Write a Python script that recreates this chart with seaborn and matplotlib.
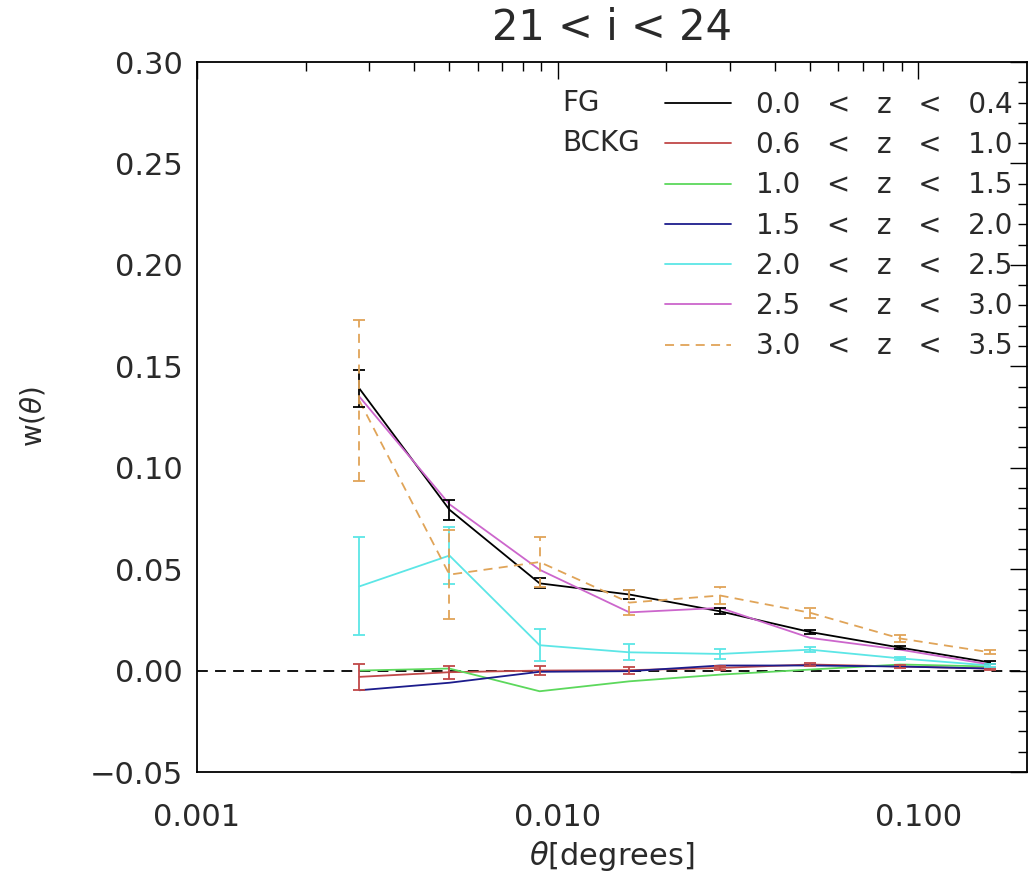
import matplotlib
matplotlib.use("Agg")
import matplotlib.pyplot as plt
import seaborn as sns
import numpy as np
import pandas as pd
from matplotlib.lines import Line2D
from matplotlib.ticker import FixedLocator, NullFormatter, MultipleLocator

# ---------------- data ----------------
theta = [0.00282, 0.00501, 0.00891, 0.0158, 0.0282, 0.0501, 0.0891, 0.158]

labels = ["0.0 < z < 0.4", "0.6 < z < 1.0", "1.0 < z < 1.5", "1.5 < z < 2.0",
          "2.0 < z < 2.5", "2.5 < z < 3.0", "3.0 < z < 3.5"]

w_z00_04 = [0.139, 0.0793, 0.0430, 0.0375, 0.0292, 0.0190, 0.0113, 0.0040]
e_z00_04 = [0.009, 0.0050, 0.0025, 0.0020, 0.0015, 0.0010, 0.0008, 0.0008]

w_z06_10 = [-0.0031, -0.0008, 0.0000, 0.0002, 0.0013, 0.0030, 0.0020, 0.0010]
e_z06_10 = [0.0064, 0.0032, 0.0023, 0.0017, 0.0012, 0.0008, 0.0006, 0.0005]

w_z10_15 = [0.0000, 0.0010, -0.0102, -0.0053, -0.0020, 0.0005, 0.0030, 0.0020]
w_z15_20 = [-0.0097, -0.0060, -0.0006, -0.0003, 0.0025, 0.0025, 0.0020, 0.0010]

w_z20_25 = [0.0415, 0.0567, 0.0125, 0.0090, 0.0082, 0.0103, 0.0060, 0.0025]
e_z20_25 = [0.0242, 0.0140, 0.0080, 0.0040, 0.0024, 0.0012, 0.0008, 0.0006]

w_z25_30 = [0.135, 0.0820, 0.0497, 0.0287, 0.0309, 0.0161, 0.0103, 0.0030]

w_z30_35 = [0.133, 0.0473, 0.0535, 0.0335, 0.0370, 0.0285, 0.0158, 0.0090]
e_z30_35 = [0.0397, 0.0220, 0.0125, 0.0060, 0.0040, 0.0025, 0.0015, 0.0010]

colors = ["#000000", "#c04848", "#5cd85c", "#1c1c8c", "#5ce6e6", "#cc66cc", "#e0a458"]

series = [w_z00_04, w_z06_10, w_z10_15, w_z15_20, w_z20_25, w_z25_30, w_z30_35]
errors = {0: e_z00_04, 1: e_z06_10, 4: e_z20_25, 6: e_z30_35}

xticks = [0.001, 0.01, 0.1]
xticklabels = ["0.001", "0.010", "0.100"]
yticks = [-0.05, 0.00, 0.05, 0.10, 0.15, 0.20, 0.25, 0.30]
yticklabels = ["\u22120.05", "0.00", "0.05", "0.10", "0.15", "0.20", "0.25", "0.30"]

# ---------------- table ----------------
rows = []
for lab, vals in zip(labels, series):
    for t, v in zip(theta, vals):
        rows.append({"theta": t, "w": v, "bin": lab})
df = pd.DataFrame(rows)

sns.set_theme(style="white")
plt.rcParams["font.family"] = ["DejaVu Sans"]
plt.rcParams["text.color"] = "#2a2a2a"

TXT = "#2a2a2a"

fig = plt.figure(figsize=(10.28, 8.75), dpi=100)
ax = fig.add_axes([197 / 1028, 1 - 772 / 875, 830 / 1028, 710 / 875])

palette = dict(zip(labels, colors))
dashes = {lab: "" for lab in labels}
dashes[labels[6]] = (5, 3.5)

sns.lineplot(data=df, x="theta", y="w", hue="bin", style="bin", palette=palette,
             dashes=dashes, hue_order=labels, style_order=labels,
             linewidth=1.3, legend=False, ax=ax, sort=False)

for i, err in errors.items():
    eb = ax.errorbar(theta, series[i], yerr=err, fmt="none", ecolor=colors[i],
                     elinewidth=1.3, capsize=4.5, capthick=1.3, zorder=3)
    if i == 6:
        eb[2][0].set_linestyle((0, (5, 3.5)))

ax.axhline(0.0, color="black", lw=1.3, ls=(0, (6, 4)), zorder=1)

ax.set_xscale("log")
ax.set_xlim(0.001, 0.2)
ax.set_ylim(-0.05, 0.30)

ax.xaxis.set_major_locator(FixedLocator(xticks))
ax.set_xticklabels(xticklabels)
ax.xaxis.set_minor_locator(FixedLocator(
    [m * d for d in (0.001, 0.01, 0.1) for m in range(2, 10) if m * d < 0.2]))
ax.xaxis.set_minor_formatter(NullFormatter())
ax.set_yticks(yticks)
ax.set_yticklabels(yticklabels)
ax.yaxis.set_minor_locator(MultipleLocator(0.01))

ax.tick_params(which="both", direction="in", top=True, right=True, colors="black",
               labelcolor=TXT, width=1.0)
ax.tick_params(which="major", length=12, labelsize=22)
ax.tick_params(which="minor", length=6.5)
ax.tick_params(axis="y", which="major", pad=10)
ax.tick_params(axis="x", which="major", pad=22)

for s in ax.spines.values():
    s.set_color("black")
    s.set_linewidth(1.3)
    s.set_visible(True)

ax.set_xlabel(r"$\theta$[degrees]", fontsize=22, color=TXT)
ax.xaxis.set_label_coords(0.5, -0.095)
ax.set_ylabel(r"w($\theta$)", fontsize=20, color=TXT)
ax.yaxis.set_label_coords(-0.18, 0.5)

fig.text(612 / 1028, 1 - 28 / 875, "21 < i < 24", ha="center", va="center",
         fontsize=30, color=TXT)

handles = [Line2D([0], [0], color=c, lw=1.3,
                  ls=(0, (5, 3.5)) if k == 6 else "-") for k, c in enumerate(colors)]
leg_labels = [l.replace(" ", "   ") for l in labels]
leg = ax.legend(handles, leg_labels, loc="upper right",
                bbox_to_anchor=(1013 / 1028, 1 - 91 / 875), bbox_transform=fig.transFigure,
                frameon=False, fontsize=20, handlelength=2.4, handletextpad=0.9,
                labelspacing=0.44, borderpad=0, borderaxespad=0)
for t in leg.get_texts():
    t.set_color(TXT)

fig.text(562 / 1028, 1 - 103 / 875, "FG", ha="left", va="center", fontsize=20, color=TXT)
fig.text(562 / 1028, 1 - 143 / 875, "BCKG", ha="left", va="center", fontsize=20, color=TXT)

fig.savefig("out.png", dpi=100)
